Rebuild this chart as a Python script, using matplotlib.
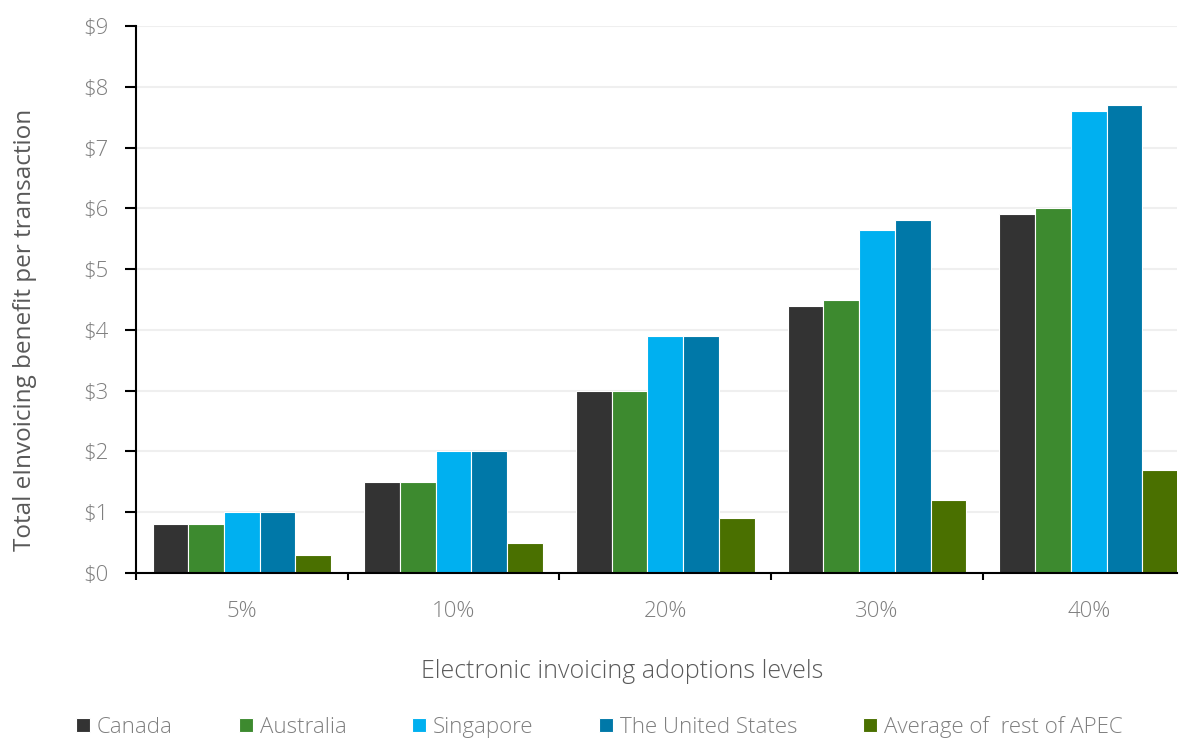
import matplotlib
matplotlib.use("Agg")
import matplotlib.pyplot as plt
import numpy as np

categories = ["5%", "10%", "20%", "30%", "40%"]
series_names = ["Canada", "Australia", "Singapore", "The United States", "Average of  rest of APEC"]
canada = [0.8, 1.5, 3.0, 4.4, 5.9]
australia = [0.8, 1.5, 3.0, 4.5, 6.0]
singapore = [1.0, 2.0, 3.9, 5.65, 7.6]
united_states = [1.0, 2.0, 3.9, 5.8, 7.7]
rest_of_apec = [0.3, 0.5, 0.9, 1.2, 1.7]
y_ticks = [0, 1, 2, 3, 4, 5, 6, 7, 8, 9]
y_tick_labels = ["$" + str(v) for v in y_ticks]

colors = ["#333333", "#3d8a2f", "#00b0f0", "#0078a8", "#4a7000"]
series = [canada, australia, singapore, united_states, rest_of_apec]

plt.rcParams['font.family'] = ['Open Sans', 'DejaVu Sans']
plt.rcParams['font.weight'] = 300

fig = plt.figure(figsize=(11.85, 7.4), dpi=100)
ax = fig.add_axes([136/1185, 1-573/740, (1177-136)/1185, (573-26)/740])

x = np.arange(len(categories))
bw = 0.1687
handles = []
for i, (vals, c, name) in enumerate(zip(series, colors, series_names)):
    h = ax.bar(x + (i - 2) * bw, vals, width=bw, color=c, edgecolor="white",
               linewidth=0.8, label=name, zorder=3)
    handles.append(h)

ax.set_ylim(0, 9)
ax.set_xlim(-0.5, 4.417)
ax.set_yticks(y_ticks)
ax.set_yticklabels(y_tick_labels)
ax.yaxis.grid(True, color="#efefef", linewidth=1.5, zorder=0)
ax.set_axisbelow(True)

# category ticks at boundaries, labels at centers
ax.set_xticks(np.arange(-0.5, 4.5, 1.0))
ax.set_xticklabels([])
ax.set_xticks(x, minor=True)
ax.set_xticklabels(categories, minor=True)
ax.tick_params(axis="x", which="major", length=5, width=1.5, color="black", direction="out")
ax.tick_params(axis="x", which="minor", length=0, pad=20, labelsize=16, labelcolor="#7f7f7f")
ax.tick_params(axis="y", length=8, width=1.5, color="black", pad=12, labelsize=16, labelcolor="#7f7f7f")

for s in ["top", "right"]:
    ax.spines[s].set_visible(False)
for s in ["left", "bottom"]:
    ax.spines[s].set_linewidth(1.5)
    ax.spines[s].set_color("black")
    ax.spines[s].set_zorder(5)

fig.text(25/1185, 1-330/740, "Total eInvoicing benefit per transaction", rotation=90,
         fontsize=17.5, fontweight="normal", color="#595959", ha="center", va="center")
fig.text((422+822)/2/1185, 1-672/740, "Electronic invoicing adoptions levels",
         fontsize=18, color="#595959", ha="center", va="center")

leg = fig.legend(handles=handles, loc="center left", bbox_to_anchor=(76/1185, 1-727/740),
                 ncol=5, frameon=False, fontsize=16, handlelength=0.63, handleheight=0.63,
                 handletextpad=0.32, columnspacing=2.95, borderaxespad=0, borderpad=0)
for t in leg.get_texts():
    t.set_color("#7f7f7f")

fig.savefig("out.png", dpi=100)
